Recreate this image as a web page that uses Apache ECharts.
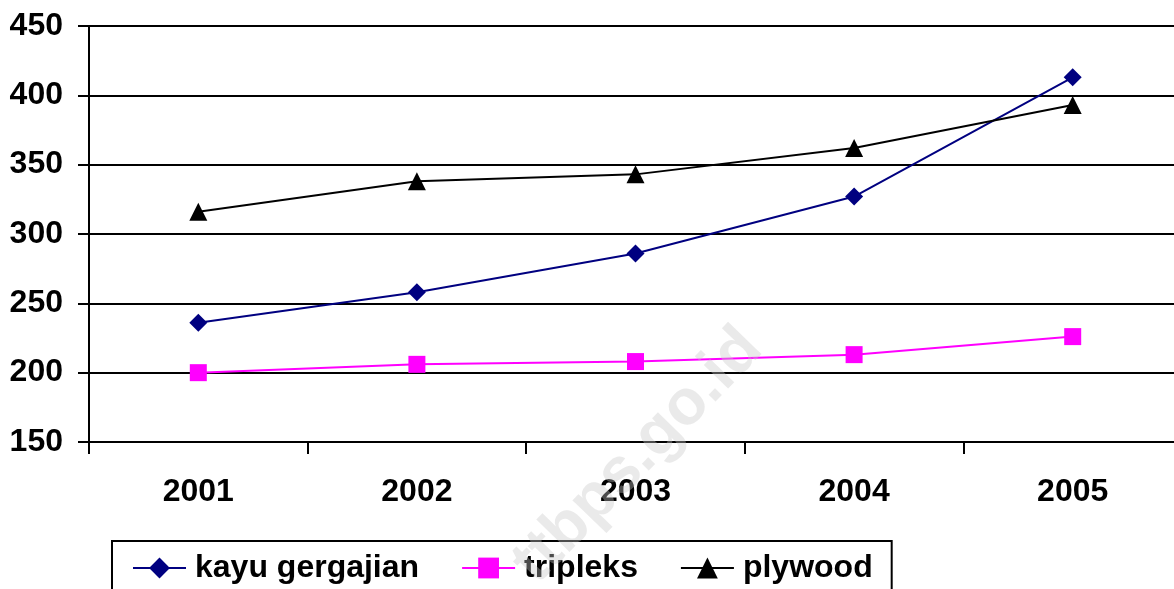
<!DOCTYPE html>
<html>
<head>
<meta charset="utf-8">
<script src="https://cdn.jsdelivr.net/npm/echarts@6/dist/echarts.min.js"></script>
<style>
html,body{margin:0;padding:0;background:#fff;overflow:hidden;width:1174px;height:589px;}
#c{width:1182px;height:589px;}
</style>
</head>
<body>
<div id="c"></div>
<script>
const categories = ['2001', '2002', '2003', '2004', '2005'];
const kayuGergajian = [236, 258, 286, 327, 413];
const tripleks = [200, 206, 208, 213, 226];
const plywood = [316, 338, 343, 362, 393];
const seriesNames = ['kayu gergajian', 'tripleks', 'plywood'];

const FONT = '"Liberation Sans", Arial, sans-serif';
const chart = echarts.init(document.getElementById('c'), null, {renderer: 'canvas'});
const lineSeries = (name, data, color, symbol, size) => ({
  name, type: 'line', data,
  symbol, symbolSize: size,
  lineStyle: {color, width: 2},
  itemStyle: {color},
  z: 5
});
chart.setOption({
  animation: false,
  backgroundColor: '#ffffff',
  grid: {left: 89, top: 26, right: 0, bottom: 147},
  xAxis: {
    type: 'category', data: categories, boundaryGap: true,
    axisLine: {show: true, lineStyle: {color: '#000', width: 2}},
    axisTick: {show: true, length: 12, lineStyle: {color: '#000', width: 2}},
    axisLabel: {fontFamily: FONT, fontSize: 32, fontWeight: 'bold', color: '#000', margin: 34},
    splitLine: {show: false}
  },
  yAxis: {
    type: 'value', min: 150, max: 450, interval: 50,
    axisLine: {show: true, lineStyle: {color: '#000', width: 2}},
    axisTick: {show: true, length: 11, lineStyle: {color: '#000', width: 2}},
    axisLabel: {fontFamily: FONT, fontSize: 32, fontWeight: 'bold', color: '#000', margin: 26},
    splitLine: {show: true, lineStyle: {color: '#000', width: 2}}
  },
  legend: {
    left: 112, top: 541,
    data: seriesNames,
    padding: [11, 19, 24, 20],
    borderColor: '#000', borderWidth: 2,
    backgroundColor: '#fff',
    itemWidth: 53, itemHeight: 26, itemGap: 42,
    textStyle: {fontFamily: FONT, fontSize: 32, fontWeight: 'bold', color: '#000', padding: [0,0,0,4]}
  },
  graphic: [{
    type: 'text', z: 100,
    x: 638, y: 456, rotation: 0.8,
    style: {
      text: 'ttbps.go.id', fontFamily: FONT, fontSize: 64, fontWeight: 'bold',
      fill: 'rgba(200,200,200,0.38)', align: 'center', verticalAlign: 'middle'
    },
    silent: true
  }],
  series: [
    lineSeries(seriesNames[0], kayuGergajian, '#000080', 'diamond', 18),
    lineSeries(seriesNames[1], tripleks, '#ff00ff', 'rect', 17),
    lineSeries(seriesNames[2], plywood, '#000000', 'triangle', 18)
  ]
});
</script>
</body>
</html>
